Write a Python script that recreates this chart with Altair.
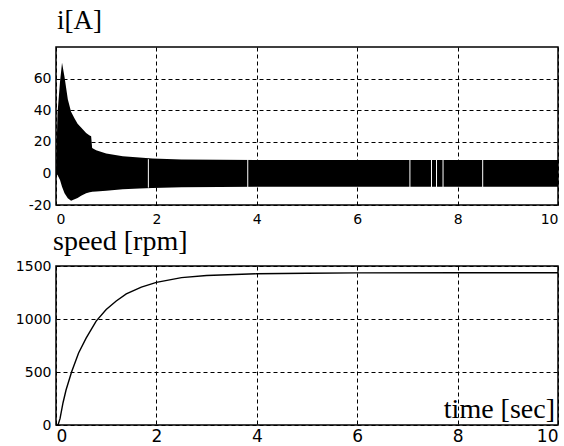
import altair as alt
import pandas as pd

# Stator current envelope (A): upper and lower extremes of the fast oscillation
cur_t = [0.0, 0.03, 0.08, 0.12, 0.17, 0.235, 0.30, 0.37, 0.43, 0.50, 0.60, 0.67,
         0.70, 0.72, 0.80, 1.0, 1.33, 1.66, 1.92, 2.5, 4.0, 6.0, 8.0, 10.0]
cur_hi = [0.0, 38.0, 58.0, 70.0, 61.0, 47.0, 39.0, 34.7, 31.5, 29.0, 25.6, 24.0,
          23.5, 16.0, 14.7, 12.6, 10.9, 10.1, 9.4, 8.8, 8.5, 8.5, 8.5, 8.5]
cur_lo = [0.0, -1.0, -4.2, -8.4, -12.6, -15.8, -17.3, -16.4, -15.5, -14.2, -12.6, -12.0,
          -11.8, -11.6, -11.5, -11.0, -10.0, -9.5, -9.2, -8.8, -8.5, -8.5, -8.5, -8.5]

# thin breaks in the dense current band
gap_t = [1.84, 3.82, 7.05, 7.48, 7.58, 7.71, 8.5]
gap_lo = [-9.0] * len(gap_t)
gap_hi = [9.0] * len(gap_t)

# Rotor speed (rpm)
spd_t = [0.0, 0.04, 0.08, 0.14, 0.20, 0.31, 0.45, 0.60, 0.80, 1.0, 1.2, 1.4, 1.7,
         2.0, 2.5, 3.0, 4.0, 5.0, 6.0, 8.0, 10.0]
spd_v = [0.0, 0.0, 60.0, 210.0, 330.0, 500.0, 680.0, 820.0, 980.0, 1090.0, 1170.0,
         1237.0, 1300.0, 1345.0, 1390.0, 1410.0, 1427.0, 1432.0, 1435.0, 1437.0, 1437.0]

x_ticks = [0, 2, 4, 6, 8, 10]
i_ticks = [-20, 0, 20, 40, 60]
s_ticks = [0, 500, 1000, 1500]

W, H = 502, 158
SERIF = "Liberation Serif"
SANS = "DejaVu Sans"

cur_df = pd.DataFrame({"t": cur_t, "hi": cur_hi, "lo": cur_lo})
gap_df = pd.DataFrame({"t": gap_t, "lo": gap_lo, "hi": gap_hi})
spd_df = pd.DataFrame({"t": spd_t, "v": spd_v})


def grid_axis(values, label_size, **kw):
    return alt.Axis(values=values, grid=True, gridColor="black", gridDash=[4, 3],
                    gridWidth=1, gridOpacity=1, ticks=False, domain=False,
                    labelFont=SANS, labelFontSize=label_size, labelColor="black",
                    labelOverlap=False, labelExpr="'' + datum.value", title=None, **kw)


i_scale = alt.Scale(domain=[-20, 80], nice=False)
t_scale = alt.Scale(domain=[0, 10], nice=False)
top_x_axis = grid_axis(x_ticks, 14, labelPadding=7)
top_y_axis = grid_axis(i_ticks, 14, labelPadding=5, minExtent=50, maxExtent=50)

band = alt.Chart(cur_df).mark_area(color="black", opacity=1, interpolate="linear").encode(
    x=alt.X("t:Q", scale=t_scale, axis=top_x_axis),
    y=alt.Y("lo:Q", scale=i_scale, axis=top_y_axis),
    y2="hi:Q",
)
gaps = alt.Chart(gap_df).mark_rule(color="white", strokeWidth=1).encode(
    x=alt.X("t:Q", scale=t_scale, axis=top_x_axis),
    y=alt.Y("lo:Q", scale=i_scale, axis=top_y_axis),
    y2="hi:Q",
)
top = alt.layer(band, gaps).properties(
    width=W, height=H,
    title=alt.TitleParams("i[A]", anchor="start", frame="group", font=SERIF,
                          fontSize=27, fontWeight="normal", color="black",
                          offset=12, dx=1),
)

speed = alt.Chart(spd_df).mark_line(color="black", strokeWidth=1.4).encode(
    x=alt.X("t:Q", scale=t_scale, axis=grid_axis(x_ticks, 17, labelPadding=3)),
    y=alt.Y("v:Q", scale=alt.Scale(domain=[0, 1500], nice=False),
            axis=grid_axis(s_ticks, 14, labelPadding=5, minExtent=50, maxExtent=50)),
)
xlabel = alt.Chart(pd.DataFrame({"s": ["time [sec]"]})).mark_text(
    font=SERIF, fontSize=28, align="right", baseline="alphabetic", color="black"
).encode(x=alt.value(W - 3), y=alt.value(H - 6), text="s:N")

bottom = alt.layer(speed, xlabel).properties(
    width=W, height=H + 1,
    title=alt.TitleParams("speed [rpm]", anchor="start", frame="group", font=SERIF,
                          fontSize=28, fontWeight="normal", color="black",
                          offset=3, dx=-3),
)

chart = alt.vconcat(top, bottom, spacing=0).properties(
    padding={"left": 5, "top": 6, "right": 0, "bottom": 0},
    background="white",
).configure_view(stroke="black", strokeWidth=1.5)

chart.save("out.html", embed_options={"renderer": "svg", "actions": False})
